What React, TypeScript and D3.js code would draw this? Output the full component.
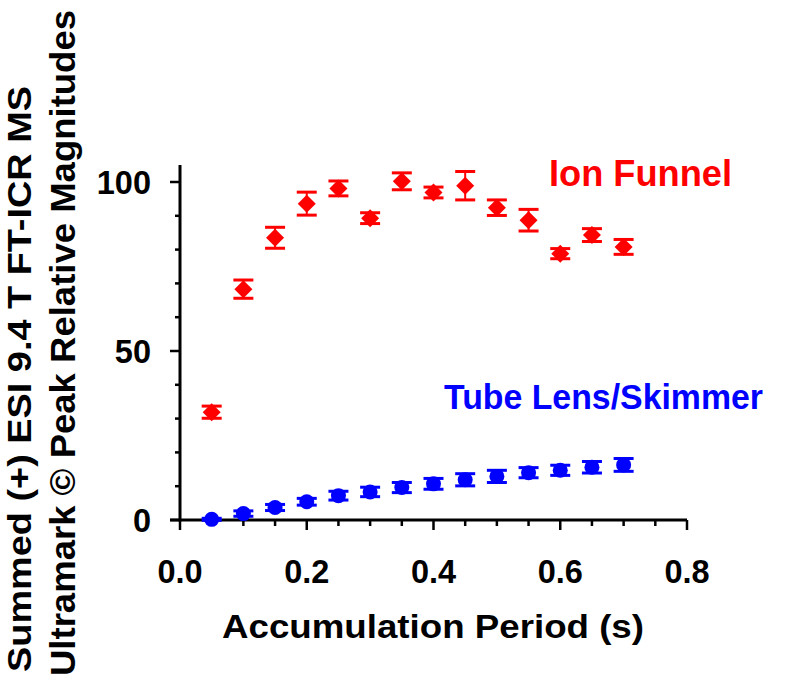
import React from "react";
import * as d3 from "d3";

const periods = [0.05, 0.1, 0.15, 0.2, 0.25, 0.3, 0.35, 0.4, 0.45, 0.5, 0.55, 0.6, 0.65, 0.7];
const ionFunnel = [31.9, 68.3, 83.5, 93.6, 98.1, 89.3, 100.2, 96.9, 98.9, 92.4, 88.7, 78.8, 84.3, 80.8];
const ionFunnelErr = [1.8, 2.7, 3.1, 3.4, 2.2, 1.6, 2.5, 1.6, 4.2, 2.3, 3.2, 1.5, 1.9, 2.2];
const tubeLens = [0.2, 1.9, 3.7, 5.4, 7.2, 8.3, 9.6, 10.7, 11.9, 12.9, 14.0, 14.7, 15.6, 16.3];
const tubeLensErr = [0.3, 0.8, 0.9, 1.0, 1.3, 1.4, 1.5, 1.6, 1.8, 1.8, 1.5, 1.5, 1.7, 1.9];
const xTickLabels = [0, 0.2, 0.4, 0.6, 0.8];
const yTickLabels = [0, 50, 100];

const FONT = "'Liberation Sans', Arial, Helvetica, sans-serif";

export default function App() {
  const x = d3.scaleLinear().domain([0, 0.8]).range([180, 687]);
  const y = d3.scaleLinear().domain([0, 100]).range([520, 182]);
  const xMinor = d3.range(0, 0.8001, 0.05);
  const yMinor = d3.range(0, 100.001, 10);
  const capW = 10;
  const diamond = (cx: number, cy: number, r: number) =>
    `M${cx},${cy - r}L${cx + r},${cy}L${cx},${cy + r}L${cx - r},${cy}Z`;

  return (
    <svg
      width={800}
      height={682}
      style={{ position: "absolute", left: 0, top: 0, background: "#fff" }}
      fontFamily={FONT}
      fontWeight="bold"
    >
      <rect x={0} y={0} width={800} height={682} fill="#fff" />
      {/* Axes */}
      <line x1={x(0)} x2={x(0)} y1={165} y2={y(0) + 1.5} stroke="#000" strokeWidth={3} />
      <line x1={170} x2={x(0.8)} y1={y(0)} y2={y(0)} stroke="#000" strokeWidth={3} />
      {yMinor.map((v) => {
        const major = Math.abs(v % 50) < 1e-6;
        return (
          <line key={"yt" + v} x1={x(0) - (major ? 10 : 5)} x2={x(0)} y1={y(v)} y2={y(v)} stroke="#000" strokeWidth={2.5} />
        );
      })}
      {xMinor.map((v) => {
        const major = Math.abs(Math.round(v * 100) % 20) < 1e-6;
        return (
          <line key={"xt" + v} x1={x(v)} x2={x(v)} y1={y(0)} y2={y(0) + (major ? 10 : 6)} stroke="#000" strokeWidth={2.5} />
        );
      })}
      {yTickLabels.map((v) => (
        <text key={"yl" + v} x={151} y={y(v)} dy="0.36em" textAnchor="end" fontSize={32.5} fill="#000">
          {v}
        </text>
      ))}
      {xTickLabels.map((v) => (
        <text key={"xl" + v} x={x(v)} y={583} textAnchor="middle" fontSize={32.5} fill="#000">
          {d3.format(".1f")(v)}
        </text>
      ))}
      <text x={433} y={638} textAnchor="middle" fontSize={33} textLength={422} lengthAdjust="spacingAndGlyphs" fill="#000">
        Accumulation Period (s)
      </text>
      <text transform="translate(31,672) rotate(-90)" fontSize={34} textLength={586} lengthAdjust="spacingAndGlyphs" fill="#000">
        Summed (+) ESI 9.4 T FT-ICR MS
      </text>
      <text transform="translate(75,676) rotate(-90)" fontSize={35} textLength={666} lengthAdjust="spacingAndGlyphs" fill="#000">
        Ultramark © Peak Relative Magnitudes
      </text>

      {/* Ion Funnel */}
      {periods.map((p, i) => {
        const cx = x(p);
        const top = y(ionFunnel[i] + ionFunnelErr[i]);
        const bot = y(ionFunnel[i] - ionFunnelErr[i]);
        return (
          <g key={"if" + i}>
            <line x1={cx} x2={cx} y1={top} y2={bot} stroke="#ff0000" strokeWidth={2} />
            <line x1={cx - capW} x2={cx + capW} y1={top} y2={top} stroke="#ff0000" strokeWidth={3} />
            <line x1={cx - capW} x2={cx + capW} y1={bot} y2={bot} stroke="#ff0000" strokeWidth={3} />
            <path d={diamond(cx, y(ionFunnel[i]), 9)} fill="#ff0000" />
          </g>
        );
      })}
      {/* Tube Lens */}
      {periods.map((p, i) => {
        const cx = x(p);
        const top = y(tubeLens[i] + tubeLensErr[i]);
        const bot = y(tubeLens[i] - tubeLensErr[i]);
        return (
          <g key={"tl" + i}>
            <line x1={cx} x2={cx} y1={top} y2={bot} stroke="#0000ff" strokeWidth={2} />
            <line x1={cx - capW} x2={cx + capW} y1={top} y2={top} stroke="#0000ff" strokeWidth={3} />
            <line x1={cx - capW} x2={cx + capW} y1={bot} y2={bot} stroke="#0000ff" strokeWidth={3} />
            <circle cx={cx} cy={y(tubeLens[i])} r={7.5} fill="#0000ff" />
          </g>
        );
      })}

      <text x={549} y={186} fontSize={36} textLength={183} lengthAdjust="spacingAndGlyphs" fill="#ff0000">
        Ion Funnel
      </text>
      <text x={444} y={409} fontSize={35} textLength={319} lengthAdjust="spacingAndGlyphs" fill="#0000ff">
        Tube Lens/Skimmer
      </text>
    </svg>
  );
}
